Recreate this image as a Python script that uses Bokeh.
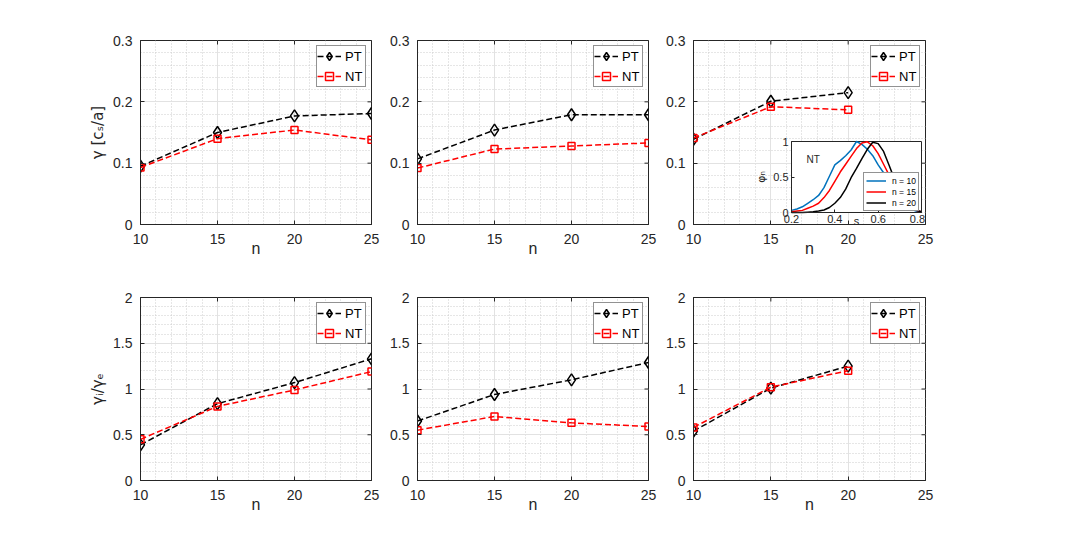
import numpy as np
from bokeh.plotting import figure
from bokeh.models import (Range1d, LinearAxis, FixedTicker, Legend, LegendItem, Label,
                          LabelSet, ColumnDataSource)
from bokeh.layouts import row, column
from bokeh.embed import file_html
from bokeh.resources import INLINE
from bokeh.core.properties import value

# ---------------- data ----------------
n_full = [10, 15, 20, 25]
n_short = [10, 15, 20]

gamma_pt_a = [0.095, 0.150, 0.177, 0.181]
gamma_nt_a = [0.093, 0.140, 0.154, 0.138]
gamma_pt_b = [0.107, 0.154, 0.179, 0.179]
gamma_nt_b = [0.092, 0.123, 0.128, 0.133]
gamma_pt_c = [0.139, 0.201, 0.215]
gamma_nt_c = [0.141, 0.192, 0.187]

ratio_pt_a = [0.39, 0.84, 1.07, 1.33]
ratio_nt_a = [0.45, 0.81, 0.99, 1.19]
ratio_pt_b = [0.65, 0.94, 1.10, 1.29]
ratio_nt_b = [0.55, 0.70, 0.63, 0.59]
ratio_pt_c = [0.54, 1.01, 1.25]
ratio_nt_c = [0.58, 1.02, 1.20]

xticks = [10, 15, 20, 25]
xtick_labels = ["10", "15", "20", "25"]
xminor = list(range(10, 26))
yticks_top = [0, 0.1, 0.2, 0.3]
ytick_labels_top = ["0", "0.1", "0.2", "0.3"]
yminor_top = [round(0.02 * i, 2) for i in range(16)]
yticks_bot = [0, 0.5, 1, 1.5, 2]
ytick_labels_bot = ["0", "0.5", "1", "1.5", "2"]
yminor_bot = [round(0.1 * i, 1) for i in range(21)]

# inset: mode structure phi_n(s), NT
inset_s = [0.200, 0.225, 0.250, 0.275, 0.300, 0.325, 0.350, 0.375, 0.400,
           0.425, 0.450, 0.475, 0.500, 0.525, 0.550, 0.575, 0.600, 0.625,
           0.650, 0.675, 0.700, 0.725, 0.750, 0.775, 0.800]
phi_n10 = [0.03, 0.05, 0.08, 0.13, 0.18, 0.24, 0.35, 0.51, 0.67,
           0.73, 0.80, 0.88, 1.00, 0.96, 0.89, 0.80, 0.67, 0.56,
           0.44, 0.31, 0.20, 0.11, 0.05, 0.02, 0.01]
phi_n15 = [0.01, 0.02, 0.03, 0.06, 0.09, 0.13, 0.21, 0.31, 0.44,
           0.57, 0.68, 0.79, 0.90, 0.98, 0.995, 0.94, 0.83, 0.68,
           0.53, 0.38, 0.25, 0.14, 0.07, 0.03, 0.01]
phi_n20 = [0.0, 0.0, 0.0, 0.005, 0.01, 0.02, 0.035, 0.07, 0.13,
           0.21, 0.33, 0.49, 0.62, 0.76, 0.89, 0.99, 0.97, 0.86,
           0.67, 0.47, 0.30, 0.16, 0.08, 0.03, 0.01]
inset_xticks = [0.2, 0.4, 0.6, 0.8]
inset_xtick_labels = ["0.2", "0.4", "0.6", "0.8"]
inset_yticks = [0, 0.5, 1]
inset_ytick_labels = ["0", "0.5", "1"]

# ---------------- style ----------------
FONT = "Liberation Sans"
AX = "#262626"
DASH = "6 3"


def style_axis(ax, size="14px", standoff=5):
    ax.major_tick_in = 4
    ax.major_tick_out = 0
    ax.minor_tick_line_color = None
    ax.axis_line_color = AX
    ax.axis_line_width = 1
    ax.major_tick_line_color = AX
    ax.major_label_text_font = FONT
    ax.major_label_text_font_size = size
    ax.major_label_text_color = AX
    ax.major_label_standoff = standoff
    ax.axis_label_text_font = FONT
    ax.axis_label_text_font_style = "normal"
    ax.axis_label_text_color = AX


def make_panel(ns, pt, nt, yticks, ylabels, yminor, ml, mr, mt, mb, fw, fh, ylabel=None):
    p = figure(width=ml + fw + mr, height=mt + fh + mb,
               x_range=Range1d(xticks[0], xticks[-1]), y_range=Range1d(yticks[0], yticks[-1]),
               output_backend="svg", toolbar_location=None,
               min_border_left=ml, min_border_right=mr, min_border_top=mt, min_border_bottom=mb)
    p.background_fill_color = "white"
    p.border_fill_color = "white"
    p.outline_line_color = AX
    p.outline_line_width = 1
    xt = FixedTicker(ticks=xticks, minor_ticks=xminor)
    yt = FixedTicker(ticks=yticks, minor_ticks=yminor)
    p.xaxis.ticker = xt
    p.yaxis.ticker = yt
    p.xgrid.ticker = xt
    p.ygrid.ticker = yt
    p.xaxis.major_label_overrides = dict(zip(xticks, xtick_labels))
    p.yaxis.major_label_overrides = dict(zip(yticks, ylabels))
    style_axis(p.xaxis[0], standoff=5)
    style_axis(p.yaxis[0], standoff=4)
    p.xaxis.axis_label = "n"
    p.xaxis.axis_label_text_font_size = "16px"
    p.xaxis.axis_label_standoff = -7
    if ylabel:
        p.yaxis.axis_label = ylabel
        p.yaxis.axis_label_text_font = "DejaVu Sans"
        p.yaxis.axis_label_text_font_size = "15px"
        p.yaxis.axis_label_standoff = 3
    for g in (p.xgrid[0], p.ygrid[0]):
        g.grid_line_color = "#e2e2e2"
        g.grid_line_width = 1
        g.minor_grid_line_color = "#cdcdcd"
        g.minor_grid_line_dash = "1 2"
        g.minor_grid_line_width = 1
    # inward ticks on the top and right box edges (clipped half of a dash marker)
    p.scatter(xticks, [yticks[-1]] * len(xticks), marker="dash", angle=np.pi / 2, size=8,
              line_color=AX, line_width=1)
    p.scatter([xticks[-1]] * len(yticks), yticks, marker="dash", size=8,
              line_color=AX, line_width=1)

    l1 = p.line(ns, pt, line_color="black", line_dash=DASH, line_width=1.5)
    m1 = p.scatter(ns, pt, marker="diamond", size=12, line_color="black", fill_color=None, line_width=1.5)
    l2 = p.line(ns, nt, line_color="red", line_dash=DASH, line_width=1.5)
    m2 = p.scatter(ns, nt, marker="square", size=7, line_color="red", fill_color=None, line_width=1.5)
    leg = Legend(items=[LegendItem(label="PT", renderers=[l1, m1]),
                        LegendItem(label="NT", renderers=[l2, m2])],
                 location="top_right", margin=5, padding=0, spacing=-4,
                 glyph_width=24, glyph_height=20, label_height=13, label_standoff=4,
                 label_text_font=FONT, label_text_font_size="13px", label_text_color="black",
                 border_line_color=AX, border_line_width=1, background_fill_color="white",
                 background_fill_alpha=1)
    p.add_layout(leg)
    return p


FW = [231, 231, 232]
ML = [140, 36, 35]
MR = [10, 10, 30]
TOP = dict(mt=40, mb=50, fh=184)
BOT = dict(mt=23, mb=52, fh=183)

pa = make_panel(n_full, gamma_pt_a, gamma_nt_a, yticks_top, ytick_labels_top, yminor_top,
                ML[0], MR[0], TOP["mt"], TOP["mb"], FW[0], TOP["fh"], ylabel="γ [cₛ/a]")
pb = make_panel(n_full, gamma_pt_b, gamma_nt_b, yticks_top, ytick_labels_top, yminor_top,
                ML[1], MR[1], TOP["mt"], TOP["mb"], FW[1], TOP["fh"])
pc = make_panel(n_short, gamma_pt_c, gamma_nt_c, yticks_top, ytick_labels_top, yminor_top,
                ML[2], MR[2], TOP["mt"], TOP["mb"], FW[2], TOP["fh"])
pd = make_panel(n_full, ratio_pt_a, ratio_nt_a, yticks_bot, ytick_labels_bot, yminor_bot,
                ML[0], MR[0], BOT["mt"], BOT["mb"], FW[0], BOT["fh"], ylabel="γᵢ/γₑ")
pe = make_panel(n_full, ratio_pt_b, ratio_nt_b, yticks_bot, ytick_labels_bot, yminor_bot,
                ML[1], MR[1], BOT["mt"], BOT["mb"], FW[1], BOT["fh"])
pf = make_panel(n_short, ratio_pt_c, ratio_nt_c, yticks_bot, ytick_labels_bot, yminor_bot,
                ML[2], MR[2], BOT["mt"], BOT["mb"], FW[2], BOT["fh"])

# ---------------- inset inside top-right panel ----------------
ins_l, ins_r, ins_b, ins_t = 98, 4, 12, 101   # px gaps from frame edges
fw3, fh3 = FW[2], TOP["fh"]
s_lo, s_hi = inset_xticks[0], inset_xticks[-1]
f_lo, f_hi = inset_yticks[0], inset_yticks[-1]
ppx = (fw3 - ins_l - ins_r) / (s_hi - s_lo)
ppy = (fh3 - ins_b - ins_t) / (f_hi - f_lo)
pc.extra_x_ranges = {"s": Range1d(s_lo - ins_l / ppx, s_hi + ins_r / ppx)}
pc.extra_y_ranges = {"phi": Range1d(f_lo - ins_b / ppy, f_hi + ins_t / ppy)}

pc.quad(left=[s_lo], right=[s_hi], bottom=[f_lo], top=[f_hi], x_range_name="s", y_range_name="phi",
        fill_color="white", line_color=AX, line_width=1)

b = pc.line(inset_s, phi_n10, line_color="#0072BD", line_width=1.5, x_range_name="s", y_range_name="phi")
r = pc.line(inset_s, phi_n15, line_color="#FF0000", line_width=1.5, x_range_name="s", y_range_name="phi")
k = pc.line(inset_s, phi_n20, line_color="#000000", line_width=1.5, x_range_name="s", y_range_name="phi")

ix = LinearAxis(x_range_name="s", y_range_name="phi", fixed_location=f_lo, bounds=(s_lo, s_hi),
                ticker=FixedTicker(ticks=inset_xticks))
style_axis(ix, size="11px", standoff=2)
ix.major_tick_in = 3
ix.major_label_text_color = None   # labels drawn below as annotations
pc.add_layout(ix, "below")
iy = LinearAxis(x_range_name="s", y_range_name="phi", fixed_location=s_lo, bounds=(f_lo, f_hi),
                ticker=FixedTicker(ticks=inset_yticks),
                major_label_overrides=dict(zip(inset_yticks, inset_ytick_labels)),
                axis_label="φₙ")
style_axis(iy, size="11px", standoff=3)
iy.major_tick_in = 3
iy.axis_label_text_font = "DejaVu Sans"
iy.axis_label_text_font_size = "11px"
iy.axis_label_standoff = 2
pc.add_layout(iy, "left")

# last label nudged left so it stays inside the main frame
ixl_src = ColumnDataSource(dict(x=inset_xticks, y=[f_lo] * len(inset_xticks), t=inset_xtick_labels,
                                dx=[0] * (len(inset_xticks) - 1) + [-4]))
pc.add_layout(LabelSet(x="x", y="y", text="t", source=ixl_src, x_range_name="s", y_range_name="phi",
                       x_offset="dx", text_font=value(FONT), text_font_size="11px", text_color=AX,
                       text_align="center", text_baseline="top", y_offset=-2))
pc.add_layout(Label(x=(s_lo + s_hi) / 2, y=f_lo, x_range_name="s", y_range_name="phi", text="s",
                    text_font=FONT, text_font_size="11px", text_color=AX,
                    text_align="center", text_baseline="top", y_offset=-2))
pc.add_layout(Label(x=0.3, y=0.75, x_range_name="s", y_range_name="phi", text="NT",
                    text_font=FONT, text_font_size="10px", text_color=AX,
                    text_align="center", text_baseline="middle"))

ileg = Legend(items=[LegendItem(label="n = 10", renderers=[b]),
                     LegendItem(label="n = 15", renderers=[r]),
                     LegendItem(label="n = 20", renderers=[k])],
              location=(170, 13), margin=0, padding=2, spacing=0,
              glyph_width=20, glyph_height=11, label_height=10, label_standoff=6,
              label_text_font=FONT, label_text_font_size="8.5px", label_text_color="black",
              border_line_color=AX, border_line_width=1, background_fill_color="white",
              background_fill_alpha=1)
pc.add_layout(ileg)

layout = column(row(pa, pb, pc), row(pd, pe, pf))
open("out.html", "w").write(file_html(layout, INLINE))
